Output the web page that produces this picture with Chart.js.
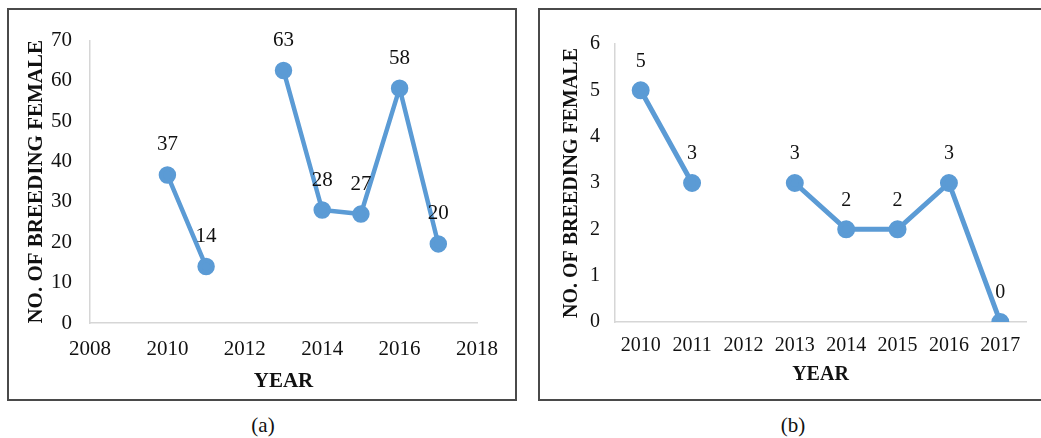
<!DOCTYPE html>
<html>
<head>
<meta charset="utf-8">
<script src="https://cdn.jsdelivr.net/npm/chart.js@4.4.0/dist/chart.umd.min.js"></script>
<style>
  html, body { margin: 0; padding: 0; background: #fff; overflow: hidden; }
  body { width: 1041px; height: 438px; position: relative; }
  .box { position: absolute; border: 2px solid #4a4a4a; }
  #boxA { left: 7px; top: 8px; width: 506px; height: 389px; }
  #boxB { left: 538px; top: 8px; width: 503px; height: 389px; }
  .box canvas { position: absolute; left: 0; top: 0; }
  .caption {
    position: absolute; top: 425px; transform: translate(-50%, -50%);
    font: 21px "Liberation Serif", "DejaVu Serif", serif; color: #111;
  }
</style>
</head>
<body>
<div class="box" id="boxA"><canvas id="chartA" width="506" height="389"></canvas></div>
<div class="box" id="boxB"><canvas id="chartB" width="503" height="389"></canvas></div>
<div class="caption" style="left:263px">(a)</div>
<div class="caption" style="left:793px">(b)</div>

<script>
// data (a): years on a linear axis, 2012 missing
const yearsA = [2010, 2011, 2012, 2013, 2014, 2015, 2016, 2017];
const femalesA = [36.7, 14, null, 62.6, 28, 27, 58.2, 19.6];

// data (b): years as categories, 2012 missing
const yearsB = ['2010', '2011', '2012', '2013', '2014', '2015', '2016', '2017'];
const femalesB = [5, 3, null, 3, 2, 2, 3, 0];

const BLUE = '#5b9bd5';
const SERIF = '"Liberation Serif", "DejaVu Serif", serif';

// value labels above points
const valueLabels = {
    id: 'valueLabels',
    afterDatasetsDraw(chart, args, opts) {
        const ctx = chart.ctx;
        const meta = chart.getDatasetMeta(0);
        const data = chart.data.datasets[0].data;
        ctx.save();
        ctx.font = opts.size + 'px ' + SERIF;
        ctx.fillStyle = '#111';
        ctx.textAlign = 'center';
        ctx.textBaseline = 'middle';
        meta.data.forEach((pt, i) => {
            let v = data[i];
            if (v !== null && typeof v === 'object') v = v.y;
            if (v === null || v === undefined || pt.skip) return;
            ctx.fillText(Math.round(v), pt.x, pt.y - opts.offset);
        });
        ctx.restore();
    }
};

function axisLine() {
    return {
        grid: { drawOnChartArea: false, drawTicks: false },
        border: { display: true, color: '#d6d6d6', width: 1.5 }
    };
}

// chart (a)
new Chart(document.getElementById('chartA'), {
    type: 'line',
    data: {
        datasets: [{
            data: yearsA.map((y, i) => ({ x: y, y: femalesA[i] })),
            borderColor: BLUE,
            backgroundColor: BLUE,
            borderWidth: 4.5,
            pointRadius: 6.5,
            pointHoverRadius: 6.5,
            tension: 0,
            spanGaps: false
        }]
    },
    options: {
        responsive: false,
        animation: false,
        layout: { padding: { top: 19, right: 38, left: 0, bottom: 0 } },
        plugins: {
            legend: { display: false },
            tooltip: { enabled: false },
            valueLabels: { size: 21, offset: 30 }
        },
        scales: {
            x: {
                type: 'linear',
                min: 2008, max: 2018,
                ...axisLine(),
                ticks: { stepSize: 2, padding: 14, color: '#111', font: { family: SERIF, size: 21 },
                    callback: v => String(v) },
                title: { display: true, text: 'YEAR', color: '#111', padding: { top: 0, bottom: 5 },
                    font: { family: SERIF, size: 21, weight: 'bold' } },
                afterFit(scale) { scale.height = 76; }
            },
            y: {
                min: 0, max: 70,
                ...axisLine(),
                ticks: { stepSize: 10, padding: 18, color: '#111', font: { family: SERIF, size: 21 } },
                title: { display: true, text: 'NO. OF BREEDING FEMALE', color: '#111', padding: { top: 15, bottom: 0 },
                    font: { family: SERIF, size: 21, weight: 'bold' } },
                afterFit(scale) { scale.width = 81; }
            }
        }
    },
    plugins: [valueLabels]
});

// chart (b)
new Chart(document.getElementById('chartB'), {
    type: 'line',
    data: {
        labels: yearsB,
        datasets: [{
            data: femalesB,
            borderColor: BLUE,
            backgroundColor: BLUE,
            borderWidth: 5,
            pointRadius: 6.5,
            pointHoverRadius: 6.5,
            tension: 0,
            spanGaps: false
        }]
    },
    options: {
        responsive: false,
        animation: false,
        layout: { padding: { top: 34, right: 17, left: 0, bottom: 0 } },
        plugins: {
            legend: { display: false },
            tooltip: { enabled: false },
            valueLabels: { size: 20, offset: 29 }
        },
        scales: {
            x: {
                offset: true,
                ...axisLine(),
                ticks: { padding: 12, color: '#111', font: { family: SERIF, size: 20 } },
                title: { display: true, text: 'YEAR', color: '#111', padding: { top: 0, bottom: 12 },
                    font: { family: SERIF, size: 20, weight: 'bold' } },
                afterFit(scale) { scale.height = 77; }
            },
            y: {
                min: 0, max: 6,
                ...axisLine(),
                ticks: { stepSize: 1, padding: 15, color: '#111', font: { family: SERIF, size: 20 } },
                title: { display: true, text: 'NO. OF BREEDING FEMALE', color: '#111', padding: { top: 20, bottom: 0 },
                    font: { family: SERIF, size: 20, weight: 'bold' } },
                afterFit(scale) { scale.width = 75; }
            }
        }
    },
    plugins: [valueLabels]
});
</script>
</body>
</html>
